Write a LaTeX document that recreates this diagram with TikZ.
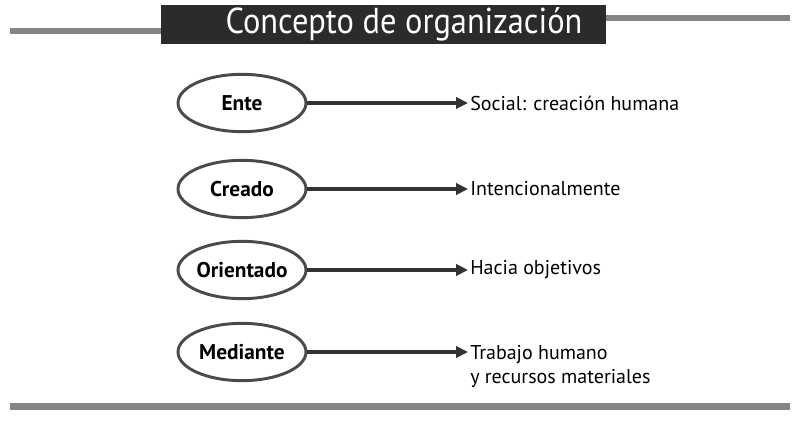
\documentclass[tikz,border=0pt]{standalone}
\usepackage{fontspec}
\setmainfont{PT Sans}
\usetikzlibrary{shapes.geometric,arrows.meta}
\definecolor{bar}{HTML}{858585}
\definecolor{titlebg}{HTML}{2B2B2B}
\definecolor{ellline}{HTML}{4A4A4A}
\definecolor{arrcol}{HTML}{333333}
\tikzset{
  oval/.style={ellipse,draw=ellline,line width=2.2pt,minimum width=96pt,minimum height=43pt,inner sep=0pt,font=\fontsize{16}{19}\selectfont\bfseries},
  desc/.style={anchor=west,inner sep=0pt,font=\fontsize{15}{18}\selectfont,align=left},
  arr/.style={draw=arrcol,line width=2.6pt,-{Triangle[length=9pt,width=8.5pt]},shorten >=1.5pt},
  graybar/.style={fill=bar,draw=none}
}
\newcommand{\ovtext}[1]{\makebox[0pt]{#1}}
\begin{document}
\begin{tikzpicture}[x=0.75pt,y=-0.75pt]
\useasboundingbox (0,0) rectangle (800,434);
% bars
\fill[graybar] (10,28) rectangle (161,34);
\fill[graybar] (606,15) rectangle (790,21);
\fill[graybar] (10,403) rectangle (790,410);
% title
\node[fill=titlebg,minimum width=445*0.75pt,minimum height=39*0.75pt,inner sep=0pt] (title) at (383,24.5) {};
\node[text=white,draw=white,line width=0.3pt,inner sep=0pt,xscale=0.9,font=\fontsize{27}{30}\selectfont,draw opacity=0] (titletext) at (404,24.5) {Concepto de organización};
% ovals
\node[oval] (e1) at (242,103) {\ovtext{Ente}};
\node[oval] (e2) at (242,189) {\ovtext{Creado}};
\node[oval] (e3) at (242,270) {\ovtext{Orientado}};
\node[oval] (e4) at (242,352) {\ovtext{Mediante}};
% descriptions
\node[desc] (t1) at (470,103) {Social: creación humana};
\node[desc] (t2) at (470,189) {Intencionalmente};
\node[desc] (t3) at (470,270) {Hacia objetivos};
\node[desc,anchor=north west] (t4) at (470,345) {Trabajo humano\\y recursos materiales};
% arrows
\draw[arr] (e1) -- (t1.west);
\draw[arr] (e2) -- (t2.west);
\draw[arr] (e3) -- (t3.west);
\draw[arr] (e4.east) -- (e4.east -| t4.west);
\end{tikzpicture}
\end{document}
